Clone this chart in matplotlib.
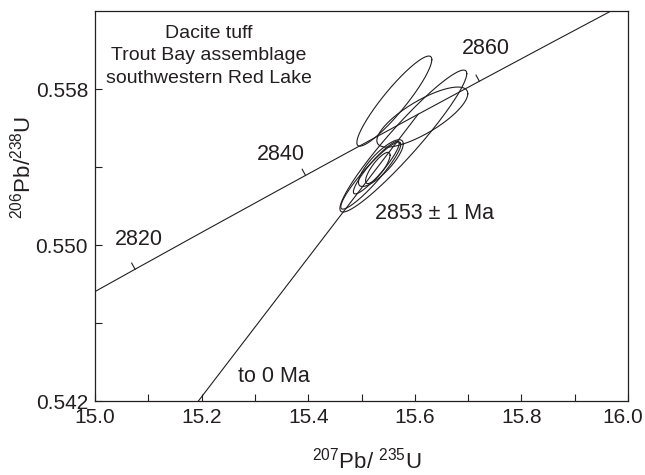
import matplotlib
matplotlib.use("Agg")
import matplotlib.pyplot as plt
import matplotlib.transforms as mtransforms
import numpy as np

plt.rcParams['font.family'] = ['Liberation Sans', 'DejaVu Sans']
plt.rcParams['mathtext.fontset'] = 'custom'
plt.rcParams['mathtext.rm'] = 'Liberation Sans'
plt.rcParams['mathtext.it'] = 'Liberation Sans:italic'

INK = "#231f20"

# decay constants (per year)
lam238 = 1.55125e-10
lam235 = 9.8485e-10

# analyses: 207Pb/235U, 206Pb/238U, 2-sigma errors, error correlation
x207 = [15.5616, 15.6141, 15.5785, 15.5175, 15.5278, 15.5363, 15.5306]
sx207 = [0.0703, 0.0853, 0.1190, 0.0563, 0.0430, 0.0420, 0.0230]
y206 = [0.55738, 0.55656, 0.55533, 0.55356, 0.55397, 0.55420, 0.55395]
sy206 = [0.00231, 0.00154, 0.00364, 0.00172, 0.00135, 0.00120, 0.00080]
rho = [0.92, 0.78, 0.95, 0.93, 0.92, 0.82, 0.82]

age_ticks = [2820, 2840, 2860]
upper_age = 2853   # Ma
lower_age = 0      # Ma


def concordia(t_ma):
    t = np.asarray(t_ma) * 1e6
    return np.exp(lam235 * t) - 1, np.exp(lam238 * t) - 1


fig = plt.figure(figsize=(6.45, 4.75), dpi=100)
ax = fig.add_axes([95 / 645, 74 / 475, 533 / 645, 390 / 475])
ax.set_xlim(15.0, 16.0)
ax.set_ylim(0.542, 0.562)

# concordia curve
t = np.linspace(2780, 2900, 400)
cx, cy = concordia(t)
ax.plot(cx, cy, color=INK, lw=0.8)

# short age ticks on the concordia, pointing up-left
for a in age_ticks:
    px, py = concordia(a)
    qx, qy = concordia(a + 0.5)
    p0 = ax.transData.transform((px, py))
    p1 = ax.transData.transform((qx, qy))
    d = (p1 - p0) / np.hypot(*(p1 - p0))
    n = np.array([-d[1], d[0]])
    p2 = p0 + 7 * n
    x2, y2 = ax.transData.inverted().transform(p2)
    ax.plot([px, x2], [py, y2], color=INK, lw=0.8)

# discordia through lower and upper intercepts
lx, ly = concordia(lower_age)
ux, uy = concordia(upper_age)
ax.plot([lx, ux], [ly, uy], color=INK, lw=0.8)

# error ellipses
th = np.linspace(0, 2 * np.pi, 200)
for i in range(len(x207)):
    ex = x207[i] + sx207[i] * np.cos(th)
    ey = y206[i] + sy206[i] * (rho[i] * np.cos(th) + np.sqrt(1 - rho[i] ** 2) * np.sin(th))
    ax.plot(ex, ey, color=INK, lw=0.8)

# labels
ax.text(15.0825, 0.55026, "2820", ha='center', va='center', fontsize=15.5, color=INK)
ax.text(15.3488, 0.55462, "2840", ha='center', va='center', fontsize=15.5, color=INK)
ax.text(15.7332, 0.56010, "2860", ha='center', va='center', fontsize=15.5, color=INK)
ax.text(15.6375, 0.55164, "2853 ± 1 Ma", ha='center', va='center', fontsize=15.5, color=INK)
ax.text(15.3356, 0.54328, "to 0 Ma", ha='center', va='center', fontsize=15.5, color=INK)
ax.text(0.213, 0.964, "Dacite tuff\nTrout Bay assemblage\nsouthwestern Red Lake",
        transform=ax.transAxes, ha='center', va='top', fontsize=14,
        linespacing=1.42, color=INK)

# axes styling
ax.set_xticks([15.0, 15.2, 15.4, 15.6, 15.8, 16.0])
ax.set_xticks([15.1, 15.3, 15.5, 15.7, 15.9], minor=True)
ax.set_yticks([0.542, 0.550, 0.558])
ax.set_yticks([0.546, 0.554], minor=True)
ax.set_xticklabels(["15.0", "15.2", "15.4", "15.6", "15.8", "16.0"])
ax.set_yticklabels(["0.542", "0.550", "0.558"])
ax.tick_params(which='both', direction='in', length=5, width=0.8, color=INK,
               labelsize=15, labelcolor=INK, pad=5)
for s in ax.spines.values():
    s.set_color(INK)
    s.set_linewidth(0.9)

# last x label sits a little left of its tick so it stays inside the figure
last = ax.get_xticklabels()[-1]
last.set_transform(last.get_transform() +
                   mtransforms.ScaledTranslation(-5 / 100, 0, fig.dpi_scale_trans))

ax.set_xlabel(r"$^{207}$Pb/ $^{235}$U", fontsize=16, color=INK)
ax.set_ylabel(r"$^{206}$Pb/$^{238}$U", fontsize=16, color=INK)
ax.xaxis.set_label_coords(0.51, -0.12)
ax.yaxis.set_label_coords(-0.112, 0.6)

fig.savefig("out.png", dpi=100)
